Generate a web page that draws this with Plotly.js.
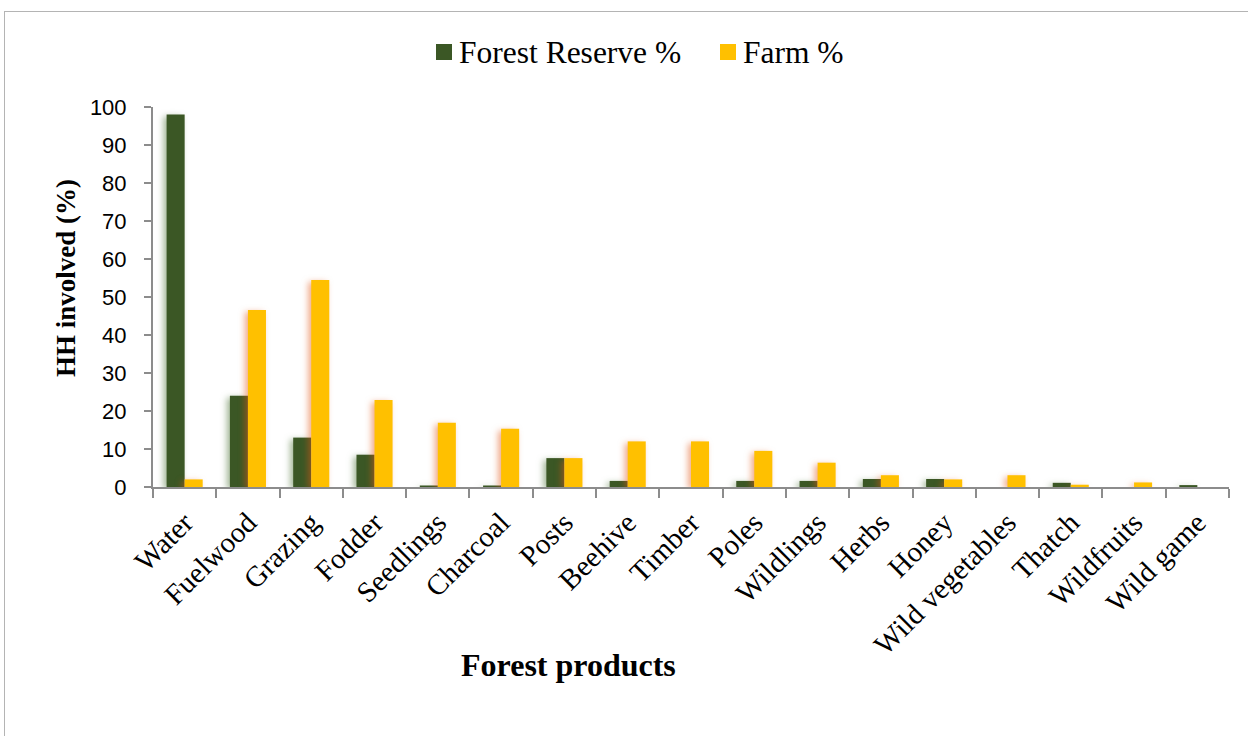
<!DOCTYPE html>
<html>
<head>
<meta charset="utf-8">
<script src="https://cdn.plot.ly/plotly-3.0.1.min.js"></script>
<style>
  html, body { margin: 0; padding: 0; background: #fff; overflow: hidden; }
  #frame { position: absolute; left: 4px; top: 11px; width: 1400px; height: 900px;
           border: 1px solid #b4b4b4; box-sizing: border-box; }
  #chart { position: absolute; left: 0; top: 0; width: 1248px; height: 736px; }
  /* soft shadow under the bars */
  g.barlayer g.trace:nth-of-type(1) path { filter: drop-shadow(-3px 2px 3px rgba(70,110,45,0.5)); }
  g.barlayer g.trace:nth-of-type(2) path { filter: drop-shadow(-3px 2px 3px rgba(225,85,20,0.5)); }
</style>
</head>
<body>
<div id="frame"></div>
<div id="chart"></div>
<script>
// Forest products used by households and share of households involved (%)
const products = ["Water", "Fuelwood", "Grazing", "Fodder", "Seedlings", "Charcoal", "Posts",
  "Beehive", "Timber", "Poles", "Wildlings", "Herbs", "Honey", "Wild vegetables",
  "Thatch", "Wildfruits", "Wild game"];
const forestReserve = [98, 24, 13, 8.5, 0.4, 0.4, 7.6, 1.6, 0, 1.6, 1.6, 2.1, 2.1, 0, 1.1, 0, 0.5];
const farm = [2, 46.6, 54.5, 22.9, 16.9, 15.3, 7.6, 12, 12, 9.5, 6.4, 3.1, 2, 3.1, 0.6, 1.2, 0];
const seriesNames = ["Forest Reserve %", "Farm %"];
const seriesColors = ["#3b5725", "#ffc000"];
const yTicks = [0, 10, 20, 30, 40, 50, 60, 70, 80, 90, 100];

const traces = [
  { type: "bar", name: seriesNames[0], x: products, y: forestReserve,
    marker: { color: seriesColors[0] }, hoverinfo: "x+y" },
  { type: "bar", name: seriesNames[1], x: products, y: farm,
    marker: { color: seriesColors[1] }, hoverinfo: "x+y" }
];

const serif = "'Liberation Serif', 'Times New Roman', serif";

const W = 1248, H = 736;
const margin = { l: 153, r: 19, t: 107, b: 249 };
const pw = W - margin.l - margin.r, ph = H - margin.t - margin.b;
const px = x => (x - margin.l) / pw;          // page x → paper x
const py = y => (H - margin.b - y) / ph;      // page y → paper y

// Legend: coloured squares and series names across the top
const legendItems = [
  { sq: 436, text: 459 },
  { sq: 720, text: 743 }
];
const shapes = legendItems.map((it, i) => ({
  type: "rect", xref: "paper", yref: "paper",
  x0: px(it.sq), x1: px(it.sq + 16), y0: py(60), y1: py(44),
  fillcolor: seriesColors[i], line: { width: 0 }
}));
const annotations = legendItems.map((it, i) => ({
  xref: "paper", yref: "paper", x: px(it.text - 2), y: py(52),
  xanchor: "left", yanchor: "middle", showarrow: false,
  text: seriesNames[i], font: { family: serif, size: 31.5, color: "#000" }
}));
// Axis titles
annotations.push({
  xref: "paper", yref: "paper", x: px(568), y: py(665),
  xanchor: "center", yanchor: "middle", showarrow: false,
  text: "<b>Forest products</b>", font: { family: serif, size: 32, color: "#000" }
});
annotations.push({
  xref: "paper", yref: "paper", x: px(66), y: py(278),
  xanchor: "center", yanchor: "middle", showarrow: false, textangle: -90,
  text: "<b>HH involved (%)</b>", font: { family: serif, size: 27, color: "#000" }
});

const layout = {
  width: W, height: H,
  margin: margin,
  paper_bgcolor: "rgba(0,0,0,0)",
  plot_bgcolor: "rgba(0,0,0,0)",
  showlegend: false,
  barmode: "group",
  bargap: 0.43,
  bargroupgap: 0,
  xaxis: {
    type: "category",
    showline: true, linecolor: "#8c8c8c", linewidth: 2,
    ticks: "outside", tickson: "boundaries", ticklen: 9, tickwidth: 2, tickcolor: "#8c8c8c",
    tickangle: -45,
    ticklabelstandoff: 5,
    tickfont: { family: serif, size: 29, color: "#000" },
    showgrid: false, zeroline: false, fixedrange: true
  },
  yaxis: {
    range: [0, 100],
    tickvals: yTicks, ticktext: yTicks.map(String),
    showline: true, linecolor: "#8c8c8c", linewidth: 2,
    ticks: "outside", ticklen: 7, tickwidth: 2, tickcolor: "#8c8c8c",
    ticklabelstandoff: 13,
    tickfont: { family: "'Liberation Sans', Arial, sans-serif", size: 22, color: "#000" },
    showgrid: false, zeroline: false, fixedrange: true
  },
  shapes: shapes,
  annotations: annotations
};

Plotly.newPlot("chart", traces, layout, { displayModeBar: false, staticPlot: true });
</script>
</body>
</html>
